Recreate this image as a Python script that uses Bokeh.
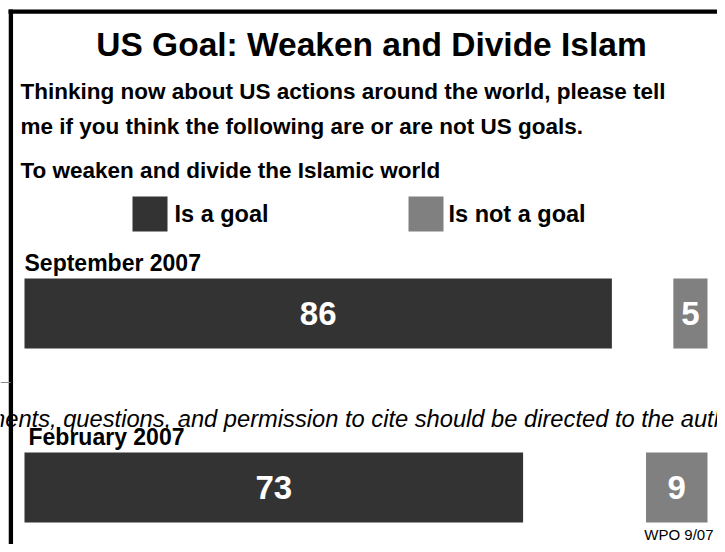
from bokeh.plotting import figure
from bokeh.models import Range1d
from bokeh.embed import file_html
from bokeh.resources import INLINE
from bokeh.core.properties import value

# ---- data ----
periods = ["September 2007", "February 2007"]
is_goal = [86, 73]
is_not_goal = [5, 9]
series_names = ["Is a goal", "Is not a goal"]
series_colors = ["#333333", "#808080"]

title = "US Goal: Weaken and Divide Islam"
question_lines = ["Thinking now about US actions around the world, please tell",
                  "me if you think the following are or are not US goals."]
item = "To weaken and divide the Islamic world"
source = "WPO 9/07"
footer = "Comments, questions, and permission to cite should be directed to the authors"

# ---- layout ----
W, H = 717, 544
X0, X100 = 24, 707
ppu = (X100 - X0) / 100.0
FONT = "Liberation Sans"

p = figure(width=W, height=H, output_backend="svg", toolbar_location=None,
           x_range=Range1d(-X0 / ppu, (W - X0) / ppu),
           y_range=Range1d(H, 0),
           x_axis_location=None, y_axis_location=None, min_border=0, tools="")
p.grid.visible = False
p.outline_line_color = None
p.background_fill_color = "white"
p.border_fill_color = "white"
p.extra_x_ranges = {"px": Range1d(0, W)}

row_y = [313, 487]
bar_h = 70

# bars
p.hbar(y=row_y, left=0, right=is_goal, height=bar_h,
       fill_color=series_colors[0], line_color=None)
p.hbar(y=row_y, left=[100 - v for v in is_not_goal], right=100, height=bar_h,
       fill_color=series_colors[1], line_color=None)

# value labels
p.text(x=[v / 2 for v in is_goal], y=row_y, text=[str(v) for v in is_goal],
       text_align="center", text_baseline="middle", text_color="white",
       text_font=value(FONT), text_font_size="33px", text_font_style="bold")
p.text(x=[100 - v / 2 for v in is_not_goal], y=row_y, text=[str(v) for v in is_not_goal],
       text_align="center", text_baseline="middle", text_color="white",
       text_font=value(FONT), text_font_size="33px", text_font_style="bold")

# frame lines
p.segment(x0=[10.4, 8], y0=[9, 11.2], x1=[10.4, W], y1=[H, 11.2],
          line_color="black", line_width=4.3, x_range_name="px")
p.segment(x0=[0], y0=[382], x1=[10], y1=[382], line_color="#888888",
          line_width=1, x_range_name="px")

# legend swatches
p.quad(left=[132, 408], right=[167, 443], top=[196, 196], bottom=[231, 231],
       fill_color=series_colors, line_color=None, x_range_name="px")


def lab(x, y, t, size, style="bold", align="left", color="black"):
    p.text(x=[x], y=[y], text=[t], x_range_name="px",
           text_font=value(FONT), text_font_size=size, text_font_style=style,
           text_align=align, text_baseline="middle", text_color=color)


lab(371, 44, title, "33.5px", align="center")
lab(20, 91, question_lines[0], "22.5px")
lab(20, 126, question_lines[1], "22.5px")
lab(20, 170, item, "22.5px")
lab(174, 213.5, series_names[0], "23.5px")
lab(448, 213.5, series_names[1], "23.5px")
lab(-65, 418.5, footer, "23.7px", style="italic")
lab(24, 262.5, periods[0], "23px")
lab(28, 436, periods[1], "23px")
lab(713, 534, source, "15px", style="normal", align="right")

open("out.html", "w").write(file_html(p, INLINE))
